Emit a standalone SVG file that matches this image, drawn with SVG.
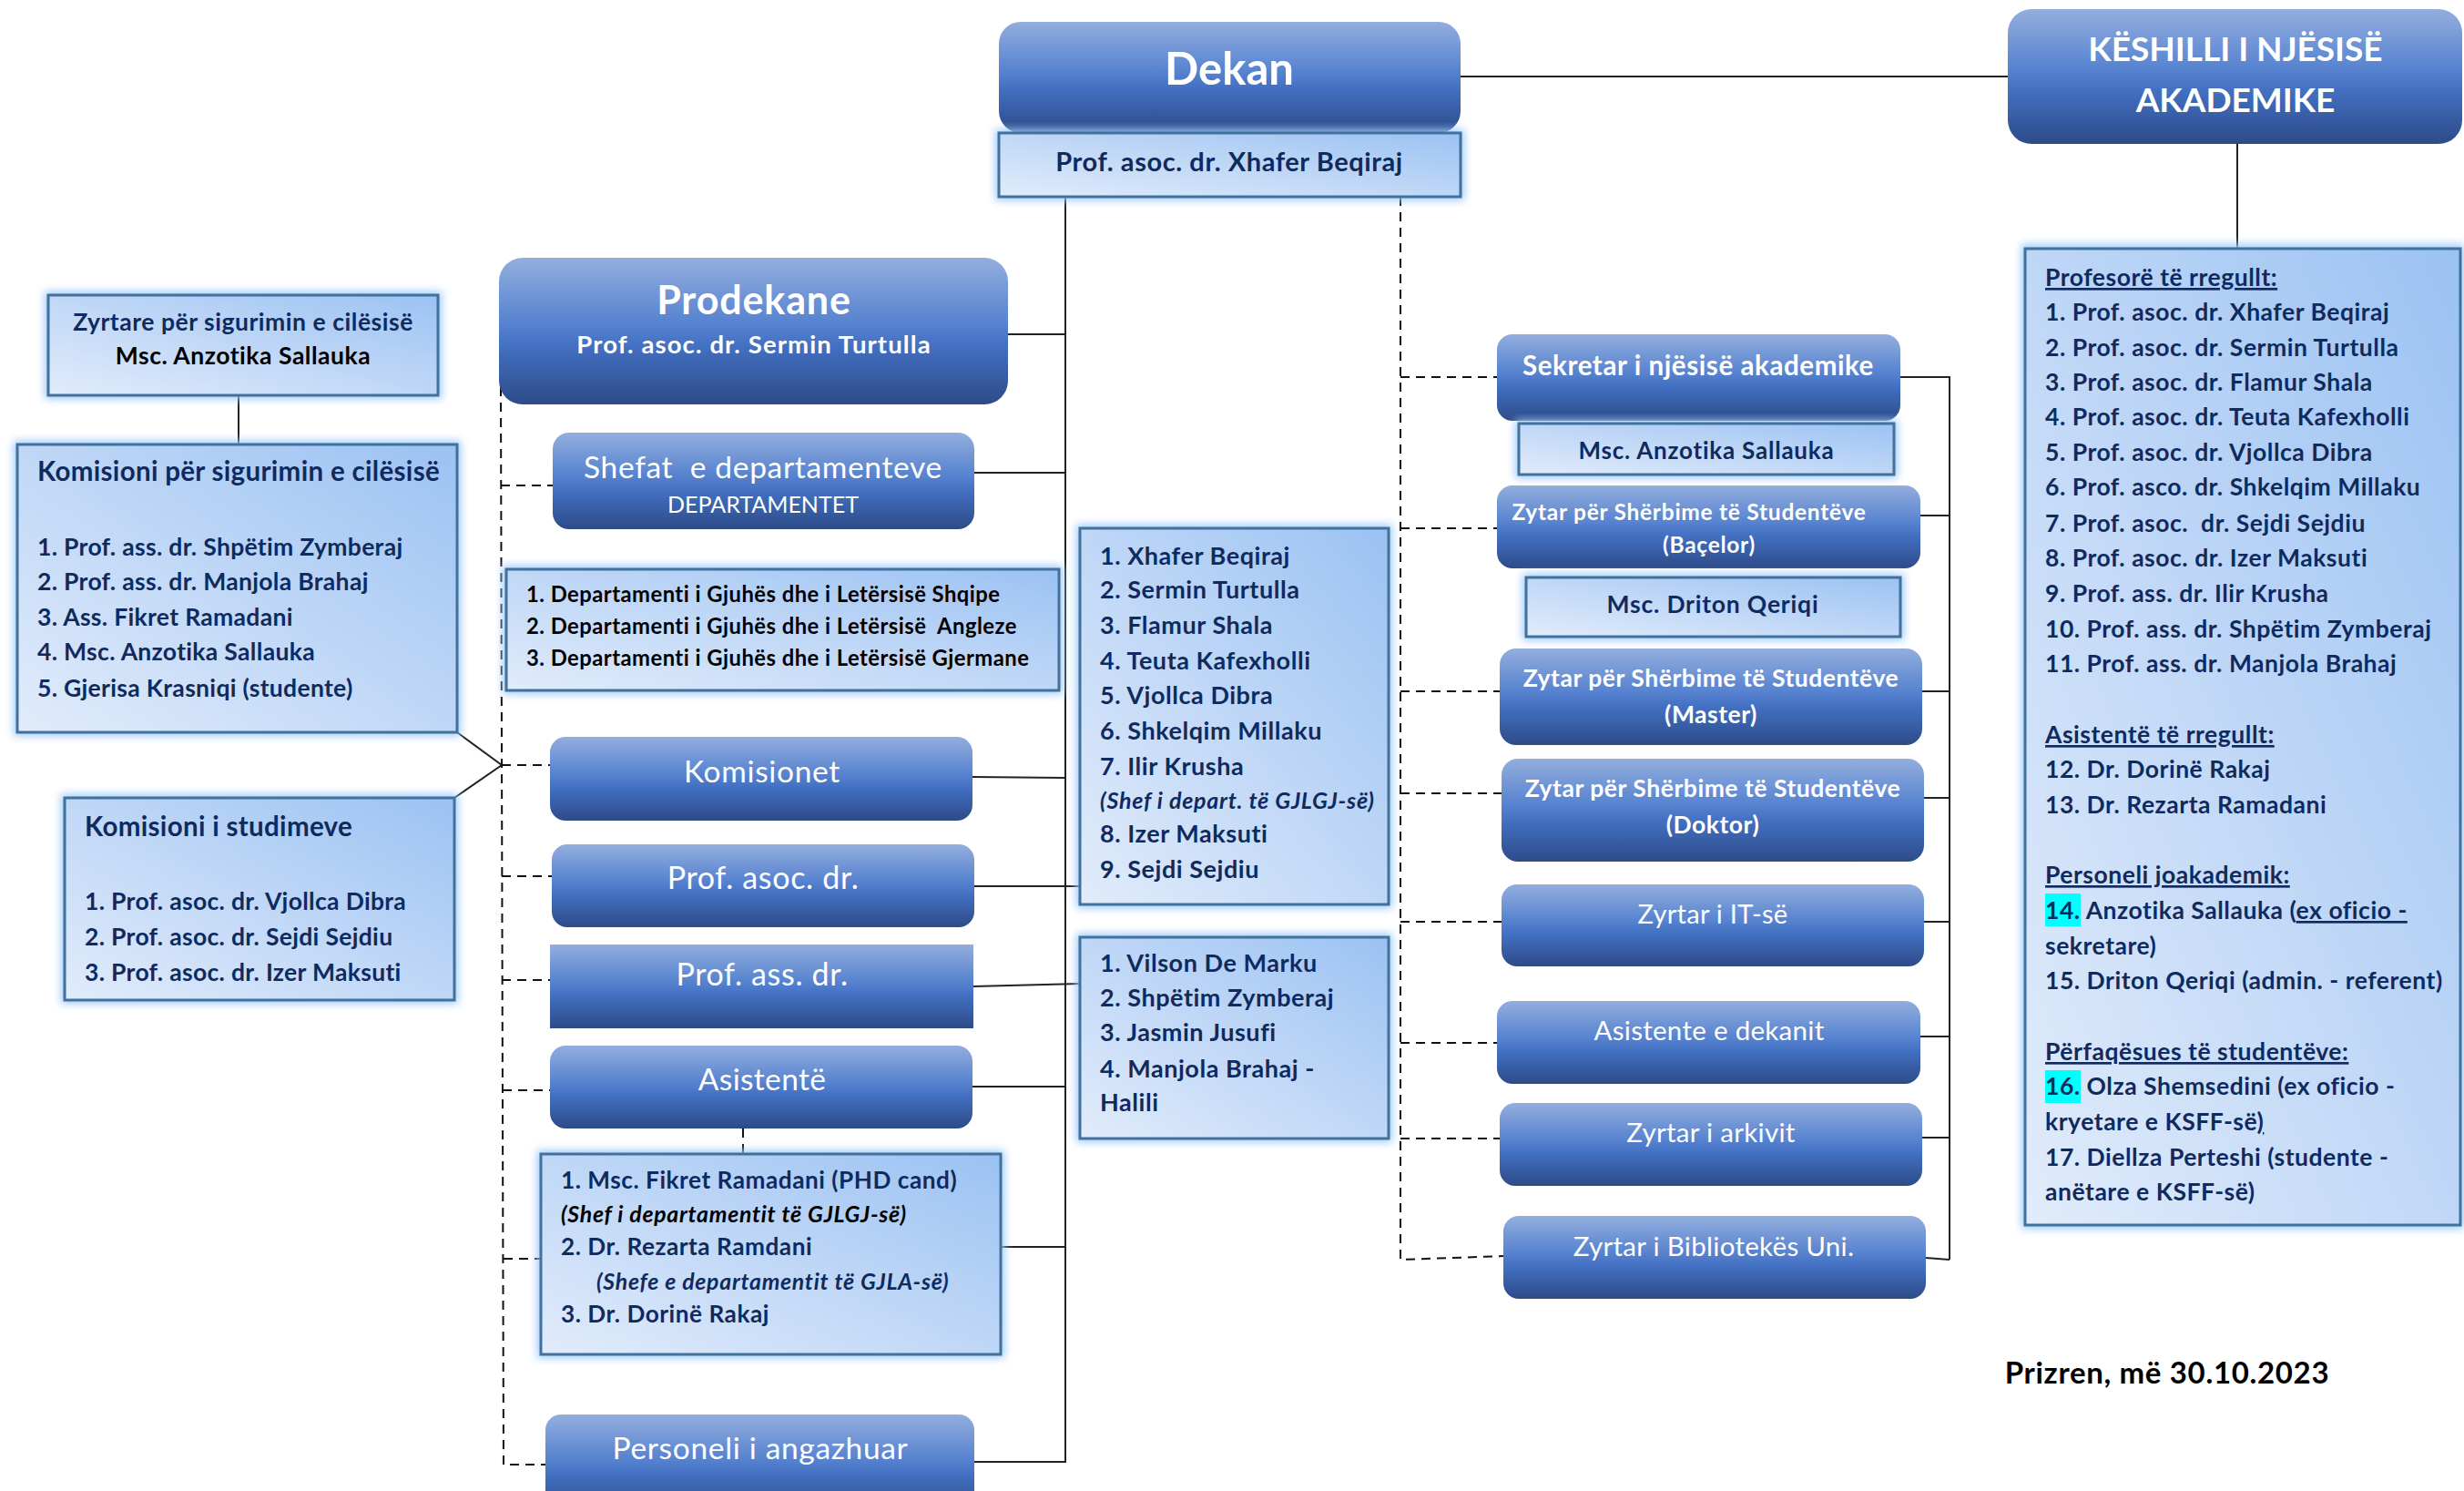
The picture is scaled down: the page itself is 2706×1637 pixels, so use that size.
<svg xmlns="http://www.w3.org/2000/svg" width="2706" height="1637" viewBox="0 0 2706 1637">
<defs>
<linearGradient id="gd" x1="0" y1="0" x2="0" y2="1">
<stop offset="0" stop-color="#93aede"/>
<stop offset="0.45" stop-color="#5682cf"/>
<stop offset="0.6" stop-color="#4370c2"/>
<stop offset="1" stop-color="#2d4b88"/>
</linearGradient>
<linearGradient id="gl" x1="0" y1="1" x2="1" y2="0">
<stop offset="0" stop-color="#e1ecfb"/>
<stop offset="0.55" stop-color="#bcd5f6"/>
<stop offset="1" stop-color="#9bc2f3"/>
</linearGradient>
<filter id="blur" x="-10%" y="-10%" width="120%" height="120%">
<feGaussianBlur stdDeviation="5"/>
</filter>
<style>
.dk{fill:url(#gd)}
.lt{fill:url(#gl);stroke:#41719c;stroke-width:3}
.glow{fill:#9ccbfb;filter:url(#blur)}
text{font-family:Lato,"Noto Sans","DejaVu Sans",sans-serif;white-space:pre}
.w{fill:#fff}
.b{font-weight:bold}
.n{fill:#0f2a5f}
.k{fill:#000}
.c{text-anchor:middle}
.i{font-style:italic}
.u{text-decoration:underline}
.s1{letter-spacing:0.01em}
.s2{letter-spacing:0.02em}
.s3{letter-spacing:0.03em}
.s4{letter-spacing:0.04em}
.ln{stroke:#222;stroke-width:2;fill:none}
.ds{stroke:#111;stroke-width:2;stroke-dasharray:10 7;fill:none}
.hl{fill:#00ffff}
</style>
</defs>

<g id="connectors">
<path class="ln" d="M1604 84H2205"/>
<path class="ln" d="M2457 158V273"/>
<path class="ln" d="M262 434V488"/>
<path class="ln" d="M502 804L551 840L499 876"/>
<path class="ln" d="M1170 216V1606"/>
<path class="ln" d="M1107 367H1170"/>
<path class="ln" d="M1070 519H1170"/>
<path class="ln" d="M1068 853L1170 854"/>
<path class="ln" d="M1070 973H1186"/>
<path class="ln" d="M1069 1083L1186 1080"/>
<path class="ln" d="M1068 1193H1170"/>
<path class="ln" d="M1099 1369H1170"/>
<path class="ln" d="M1070 1605H1170"/>
<path class="ln" d="M2087 414H2141V1383"/>
<path class="ln" d="M2109 566H2141"/>
<path class="ln" d="M2111 759H2141"/>
<path class="ln" d="M2113 876H2141"/>
<path class="ln" d="M2108 1012H2141"/>
<path class="ln" d="M2109 1138H2141"/>
<path class="ln" d="M2111 1249H2141"/>
<path class="ln" d="M2115 1381L2141 1383"/>
<path class="ds" d="M1538 216V1383L1651 1379"/>
<path class="ds" d="M1538 414H1644"/>
<path class="ds" d="M1538 580H1644"/>
<path class="ds" d="M1538 759H1647"/>
<path class="ds" d="M1538 871H1649"/>
<path class="ds" d="M1538 1012H1649"/>
<path class="ds" d="M1538 1145H1644"/>
<path class="ds" d="M1538 1250H1647"/>
<path class="ds" d="M550 425L553 1608H599"/>
<path class="ds" d="M550 533H607"/>
<path class="ds" d="M551 840H604"/>
<path class="ds" d="M551 962H606"/>
<path class="ds" d="M551 1076H604"/>
<path class="ds" d="M552 1197H604"/>
<path class="ds" d="M816 1239V1267"/>
<path class="ds" d="M553 1382H594"/>
</g>

<g id="dekan">
<rect class="dk" x="1097" y="24" width="507" height="122" rx="24"/>
<text class="w b c" x="1350" y="93" font-size="49">Dekan</text>
</g>
<g id="dekan-name">
<rect class="glow" x="1093" y="142" width="515" height="78"/>
<rect class="lt" x="1097" y="146" width="507" height="70"/>
<text class="n b c s2" x="1350" y="188" font-size="29">Prof. asoc. dr. Xhafer Beqiraj</text>
</g>

<g id="keshilli">
<rect class="dk" x="2205" y="10" width="499" height="148" rx="26"/>
<text class="w b c" x="2455" y="67" font-size="37">KËSHILLI I NJËSISË</text>
<text class="w b c" x="2455" y="123" font-size="37">AKADEMIKE</text>
</g>

<g id="keshilli-list">
<rect class="glow" x="2220" y="268" width="486" height="1081"/>
<rect class="lt" x="2224" y="273" width="478" height="1072"/>
<rect class="hl" x="2246" y="981" width="39" height="36"/>
<rect class="hl" x="2246" y="1175" width="39" height="36"/>
<g class="n b s2" font-size="26.5">
<text class="u" x="2246" y="314">Profesorë të rregullt:</text>
<text x="2246" y="352">1. Prof. asoc. dr. Xhafer Beqiraj</text>
<text x="2246" y="391">2. Prof. asoc. dr. Sermin Turtulla</text>
<text x="2246" y="429">3. Prof. asoc. dr. Flamur Shala</text>
<text x="2246" y="467">4. Prof. asoc. dr. Teuta Kafexholli</text>
<text x="2246" y="506">5. Prof. asoc. dr. Vjollca Dibra</text>
<text x="2246" y="544">6. Prof. asco. dr. Shkelqim Millaku</text>
<text x="2246" y="584">7. Prof. asoc.  dr. Sejdi Sejdiu</text>
<text x="2246" y="622">8. Prof. asoc. dr. Izer Maksuti</text>
<text x="2246" y="661">9. Prof. ass. dr. Ilir Krusha</text>
<text x="2246" y="700">10. Prof. ass. dr. Shpëtim Zymberaj</text>
<text x="2246" y="738">11. Prof. ass. dr. Manjola Brahaj</text>
<text class="u" x="2246" y="816">Asistentë të rregullt:</text>
<text x="2246" y="854">12. Dr. Dorinë Rakaj</text>
<text x="2246" y="893">13. Dr. Rezarta Ramadani</text>
<text class="u" x="2246" y="970">Personeli joakademik:</text>
<text x="2246" y="1009">14. Anzotika Sallauka (<tspan class="u">ex oficio -</tspan></text>
<text x="2246" y="1048">sekretare)</text>
<text x="2246" y="1086">15. Driton Qeriqi (admin. - referent)</text>
<text class="u" x="2246" y="1164">Përfaqësues të studentëve:</text>
<text x="2246" y="1202">16. Olza Shemsedini (ex oficio -</text>
<text x="2246" y="1241">kryetare e KSFF-së<tspan class="u">)</tspan></text>
<text x="2246" y="1280">17. Diellza Perteshi (studente -</text>
<text x="2246" y="1318">anëtare e KSFF-së)</text>
</g>
</g>

<g id="zyrtare-cilesise">
<rect class="glow" x="49" y="320" width="436" height="118"/>
<rect class="lt" x="53" y="324" width="428" height="110"/>
<text class="n b c s2" x="267" y="363" font-size="26.5">Zyrtare për sigurimin e cilësisë</text>
<text class="k b c s2" x="267" y="400" font-size="26.5">Msc. Anzotika Sallauka</text>
</g>

<g id="komisioni-cilesise">
<rect class="glow" x="15" y="484" width="491" height="324"/>
<rect class="lt" x="19" y="488" width="483" height="316"/>
<g class="n b s2">
<text x="41" y="528" font-size="29.5">Komisioni për sigurimin e cilësisë</text>
<text x="41" y="610" font-size="26.5">1. Prof. ass. dr. Shpëtim Zymberaj</text>
<text x="41" y="648" font-size="26.5">2. Prof. ass. dr. Manjola Brahaj</text>
<text x="41" y="687" font-size="26.5">3. Ass. Fikret Ramadani</text>
<text x="41" y="725" font-size="26.5">4. Msc. Anzotika Sallauka</text>
<text x="41" y="765" font-size="26.5">5. Gjerisa Krasniqi (studente)</text>
</g>
</g>

<g id="komisioni-studimeve">
<rect class="glow" x="67" y="872" width="436" height="230"/>
<rect class="lt" x="71" y="876" width="428" height="222"/>
<g class="n b s2">
<text x="93" y="918" font-size="29.5">Komisioni i studimeve</text>
<text x="93" y="999" font-size="26.5">1. Prof. asoc. dr. Vjollca Dibra</text>
<text x="93" y="1038" font-size="26.5">2. Prof. asoc. dr. Sejdi Sejdiu</text>
<text x="93" y="1077" font-size="26.5">3. Prof. asoc. dr. Izer Maksuti</text>
</g>
</g>

<g id="prodekane">
<rect class="dk" x="548" y="283" width="559" height="161" rx="26"/>
<text class="w b c s2" x="828" y="345" font-size="43">Prodekane</text>
<text class="w b c s4" x="828" y="388" font-size="27.5">Prof. asoc. dr. Sermin Turtulla</text>
</g>

<g id="shefat">
<rect class="dk" x="607" y="475" width="463" height="106" rx="18"/>
<text class="w c s2" x="838" y="525" font-size="33.5">Shefat  e departamenteve</text>
<text class="w c" x="838" y="563" font-size="25">DEPARTAMENTET</text>
</g>

<g id="departamentet">
<rect class="glow" x="552" y="621" width="615" height="141"/>
<rect class="lt" x="556" y="625" width="607" height="133"/>
<g class="k b s2" font-size="23.8">
<text x="578" y="661">1. Departamenti i Gjuhës dhe i Letërsisë Shqipe</text>
<text x="578" y="696">2. Departamenti i Gjuhës dhe i Letërsisë  Angleze</text>
<text x="578" y="731">3. Departamenti i Gjuhës dhe i Letërsisë Gjermane</text>
</g>
</g>

<g id="komisionet">
<rect class="dk" x="604" y="809" width="464" height="92" rx="17"/>
<text class="w c s2" x="837" y="859" font-size="33.5">Komisionet</text>
</g>

<g id="prof-asoc">
<rect class="dk" x="606" y="927" width="464" height="91" rx="17"/>
<text class="w c s2" x="838" y="976" font-size="34">Prof. asoc. dr.</text>
</g>

<g id="prof-ass">
<rect class="dk" x="604" y="1037" width="465" height="92"/>
<text class="w c s2" x="837" y="1082" font-size="34">Prof. ass. dr.</text>
</g>

<g id="asistente">
<rect class="dk" x="604" y="1148" width="464" height="91" rx="17"/>
<text class="w c s1" x="837" y="1197" font-size="33.5">Asistentë</text>
</g>

<g id="asistente-list">
<rect class="glow" x="590" y="1263" width="513" height="228"/>
<rect class="lt" x="594" y="1267" width="505" height="220"/>
<g class="b s2" font-size="26.2">
<text class="n" x="616" y="1305">1. Msc. Fikret Ramadani (PHD cand)</text>
<text class="k i s3" x="616" y="1342" font-size="24.8">(Shef i departamentit të GJLGJ-së)</text>
<text class="n" x="616" y="1378">2. Dr. Rezarta Ramdani</text>
<text class="n i s3" x="655" y="1416" font-size="24.8">(Shefe e departamentit të GJLA-së)</text>
<text class="n" x="616" y="1452">3. Dr. Dorinë Rakaj</text>
</g>
</g>

<g id="personeli">
<rect class="dk" x="599" y="1553" width="471" height="110" rx="17"/>
<text class="w c s2" x="835" y="1602" font-size="33.5">Personeli i angazhuar</text>
</g>

<g id="prof-asoc-list">
<rect class="glow" x="1182" y="576" width="347" height="421"/>
<rect class="lt" x="1186" y="580" width="339" height="413"/>
<g class="n b s2" font-size="27">
<text x="1208" y="620">1. Xhafer Beqiraj</text>
<text x="1208" y="657">2. Sermin Turtulla</text>
<text x="1208" y="696">3. Flamur Shala</text>
<text x="1208" y="735">4. Teuta Kafexholli</text>
<text x="1208" y="773">5. Vjollca Dibra</text>
<text x="1208" y="812">6. Shkelqim Millaku</text>
<text x="1208" y="851">7. Ilir Krusha</text>
<text class="i s3" x="1208" y="888" font-size="25">(Shef i depart. të GJLGJ-së)</text>
<text x="1208" y="925">8. Izer Maksuti</text>
<text x="1208" y="964">9. Sejdi Sejdiu</text>
</g>
</g>

<g id="prof-ass-list">
<rect class="glow" x="1182" y="1025" width="347" height="229"/>
<rect class="lt" x="1186" y="1029" width="339" height="221"/>
<g class="n b s2" font-size="27">
<text x="1208" y="1067">1. Vilson De Marku</text>
<text x="1208" y="1105">2. Shpëtim Zymberaj</text>
<text x="1208" y="1143">3. Jasmin Jusufi</text>
<text x="1208" y="1183">4. Manjola Brahaj -</text>
<text x="1208" y="1220">Halili</text>
</g>
</g>

<g id="sekretar">
<rect class="dk" x="1644" y="367" width="443" height="95" rx="17"/>
<text class="w b c s2" x="1865" y="412" font-size="29.5">Sekretar i njësisë akademike</text>
</g>
<g id="sekretar-name">
<rect class="glow" x="1664" y="461" width="420" height="64"/>
<rect class="lt" x="1668" y="465" width="412" height="56"/>
<text class="n b c s3" x="1874" y="504" font-size="26">Msc. Anzotika Sallauka</text>
</g>

<g id="zytar-bacelor">
<rect class="dk" x="1644" y="533" width="465" height="91" rx="17"/>
<text class="w b c s3" x="1855" y="571" font-size="24.5">Zytar për Shërbime të Studentëve</text>
<text class="w b c s3" x="1877" y="607" font-size="24.5">(Baçelor)</text>
</g>
<g id="zytar-bacelor-name">
<rect class="glow" x="1672" y="630" width="419" height="73"/>
<rect class="lt" x="1676" y="634" width="411" height="65"/>
<text class="n b c s3" x="1881" y="673" font-size="26.5">Msc. Driton Qeriqi</text>
</g>

<g id="zytar-master">
<rect class="dk" x="1647" y="712" width="464" height="106" rx="18"/>
<text class="w b c s2" x="1879" y="754" font-size="26.5">Zytar për Shërbime të Studentëve</text>
<text class="w b c s2" x="1879" y="794" font-size="26.5">(Master)</text>
</g>

<g id="zytar-doktor">
<rect class="dk" x="1649" y="833" width="464" height="113" rx="18"/>
<text class="w b c s2" x="1881" y="875" font-size="26.5">Zytar për Shërbime të Studentëve</text>
<text class="w b c s2" x="1881" y="915" font-size="26.5">(Doktor)</text>
</g>

<g id="zyrtar-it">
<rect class="dk" x="1649" y="971" width="464" height="90" rx="17"/>
<text class="w c s1" x="1881" y="1014" font-size="29">Zyrtar i IT-së</text>
</g>

<g id="asistente-dekanit">
<rect class="dk" x="1644" y="1099" width="465" height="91" rx="17"/>
<text class="w c s1" x="1877" y="1142" font-size="29.5">Asistente e dekanit</text>
</g>

<g id="zyrtar-arkivit">
<rect class="dk" x="1647" y="1211" width="464" height="91" rx="17"/>
<text class="w c s1" x="1879" y="1254" font-size="29.5">Zyrtar i arkivit</text>
</g>

<g id="zyrtar-biblioteka">
<rect class="dk" x="1651" y="1335" width="464" height="91" rx="17"/>
<text class="w c s1" x="1882" y="1379" font-size="29.5">Zyrtar i Bibliotekës Uni.</text>
</g>

<g id="data">
<text class="k b c s2" x="2380" y="1519" font-size="33">Prizren, më 30.10.2023</text>
</g>
</svg>
